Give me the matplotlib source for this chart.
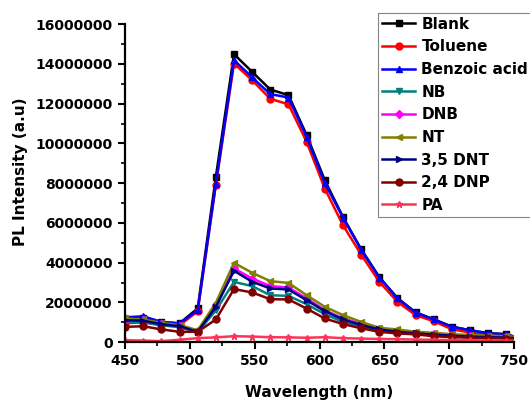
import matplotlib
matplotlib.use('Agg')
import matplotlib.pyplot as plt
from matplotlib.ticker import MultipleLocator, FuncFormatter

plt.rcParams['font.family'] = ['DejaVu Sans']
plt.rcParams['font.weight'] = 'bold'

# wavelength (nm) and PL intensity (millions, a.u.)
wavelength = [450, 464, 478, 492, 506, 520, 534, 548, 562, 576, 590, 604,
              618, 632, 646, 660, 674, 688, 702, 716, 730, 744, 750]

blank = [1.15, 1.20, 1.00, 0.95, 1.70, 8.32, 14.49, 13.60, 12.71, 12.43, 10.42, 8.15,
         6.30, 4.68, 3.28, 2.22, 1.50, 1.15, 0.78, 0.60, 0.45, 0.40, 0.28]
toluene = [0.95, 1.00, 0.85, 0.85, 1.55, 7.90, 14.02, 13.18, 12.24, 11.97, 10.08, 7.73,
           5.89, 4.41, 3.04, 2.03, 1.36, 1.05, 0.65, 0.48, 0.36, 0.30, 0.22]
benzoic = [1.25, 1.30, 1.02, 0.94, 1.61, 7.98, 14.19, 13.32, 12.48, 12.31, 10.33, 8.02,
           6.27, 4.66, 3.25, 2.20, 1.48, 1.14, 0.77, 0.60, 0.44, 0.40, 0.27]
nb = [1.00, 1.00, 0.85, 0.75, 0.50, 1.60, 3.03, 2.82, 2.36, 2.33, 1.91, 1.41,
      1.02, 0.80, 0.60, 0.50, 0.42, 0.36, 0.30, 0.27, 0.24, 0.22, 0.20]
dnb = [1.10, 1.10, 0.92, 0.82, 0.55, 1.86, 3.71, 3.20, 2.82, 2.75, 2.20, 1.61,
       1.20, 0.92, 0.68, 0.55, 0.45, 0.40, 0.33, 0.30, 0.27, 0.25, 0.22]
nt = [1.19, 1.14, 0.97, 0.86, 0.60, 1.98, 3.99, 3.49, 3.07, 2.98, 2.36, 1.78,
      1.36, 1.02, 0.72, 0.64, 0.52, 0.47, 0.40, 0.36, 0.33, 0.30, 0.27]
dnt35 = [1.10, 1.08, 0.90, 0.80, 0.52, 1.78, 3.59, 3.04, 2.70, 2.65, 2.11, 1.56,
         1.14, 0.86, 0.64, 0.52, 0.44, 0.38, 0.32, 0.28, 0.25, 0.23, 0.20]
dnp24 = [0.77, 0.80, 0.64, 0.52, 0.52, 1.14, 2.67, 2.50, 2.16, 2.15, 1.69, 1.19,
         0.91, 0.70, 0.52, 0.44, 0.39, 0.30, 0.25, 0.22, 0.20, 0.18, 0.15]
pa = [0.10, 0.08, 0.05, 0.12, 0.20, 0.24, 0.30, 0.28, 0.25, 0.24, 0.22, 0.25,
      0.20, 0.18, 0.16, 0.15, 0.13, 0.12, 0.10, 0.10, 0.08, 0.08, 0.07]

labels = ['Blank', 'Toluene', 'Benzoic acid', 'NB', 'DNB', 'NT', '3,5 DNT', '2,4 DNP', 'PA']
series = [blank, toluene, benzoic, nb, dnb, nt, dnt35, dnp24, pa]
colors = ['#000000', '#ff0000', '#0000ff', '#008080', '#ff00ff', '#808000',
          '#000080', '#800000', '#ff3355']
markers = ['s', 'o', '^', 'v', 'D', '<', '>', 'o', '*']

fig = plt.figure(figsize=(5.3, 4.03), dpi=100)
ax = fig.add_axes([0.236, 0.151, 0.734, 0.789])

for lab, ys, c, m in zip(labels, series, colors, markers):
    ax.plot(wavelength, [v * 1e6 for v in ys], color=c, marker=m, lw=1.8,
            ms=5 if m != 'D' else 4, markevery=slice(0, 22), label=lab)

ax.set_xlim(450, 750)
ax.set_ylim(0, 16e6)
ax.xaxis.set_major_locator(MultipleLocator(50))
ax.xaxis.set_minor_locator(MultipleLocator(25))
ax.yaxis.set_major_locator(MultipleLocator(2e6))
ax.yaxis.set_minor_locator(MultipleLocator(1e6))
ax.yaxis.set_major_formatter(FuncFormatter(lambda v, p: f'{v:.0f}'))

for s in ['top', 'right']:
    ax.spines[s].set_visible(False)
for s in ['left', 'bottom']:
    ax.spines[s].set_linewidth(1.6)
ax.tick_params(which='major', direction='out', length=5, width=1.5, labelsize=10)
ax.tick_params(which='minor', direction='out', length=3, width=1.2)
ax.tick_params(axis='y', pad=4)

ax.set_xlabel('Wavelength (nm)', fontsize=11, fontweight='bold', labelpad=12)
ax.set_ylabel('PL Intensity (a.u)', fontsize=11, fontweight='bold')
ax.yaxis.set_label_coords(-0.25, 0.535)

leg = fig.legend(loc='upper left', bbox_to_anchor=(0.713, 0.968), fontsize=11,
                 frameon=True, fancybox=False, handlelength=2.2, handletextpad=0.4,
                 labelspacing=0.5, borderpad=0.25, borderaxespad=0)
leg.get_frame().set_edgecolor('#666666')
leg.get_frame().set_linewidth(0.8)

fig.savefig('out.png', dpi=100)
